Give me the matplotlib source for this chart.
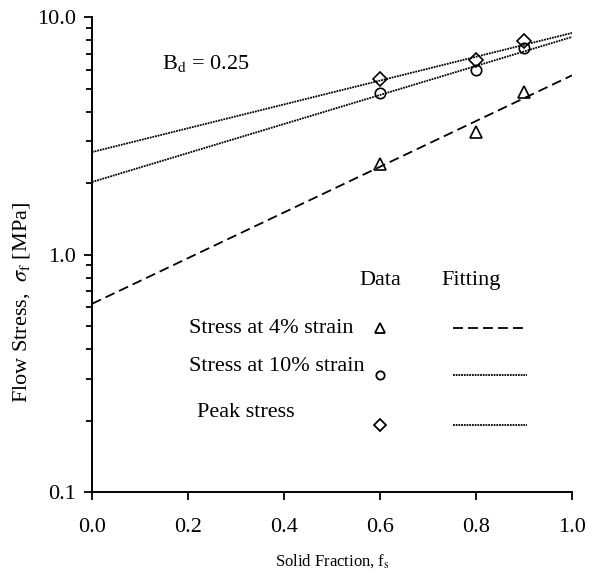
import numpy as np
import matplotlib
matplotlib.use('Agg')
import matplotlib.pyplot as plt
import matplotlib.ticker as tck

plt.rcParams['font.family'] = ['Liberation Serif', 'DejaVu Serif']
plt.rcParams['mathtext.fontset'] = 'stix'

# measured data
fs_data = [0.6, 0.8, 0.9]
stress_4pct = [2.41, 3.27, 4.83]
stress_10pct = [4.79, 6.0, 7.4]
peak_stress = [5.5, 6.6, 7.9]

# exponential fits: sigma = a * exp(b * fs)
fit_a = [0.62, 2.02, 2.70]
fit_b = [2.215, 1.406, 1.155]

legend_names = ['Stress at 4% strain', 'Stress at 10% strain', 'Peak stress']

dashed = (0, (5.5, 2.8))
dotted = (0, (1.0, 0.5))

fig = plt.figure(figsize=(5.95, 5.75), dpi=100)
ax = fig.add_axes([0.1546, 0.1443, 0.8067, 0.8261])

# data points
ax.plot(fs_data, stress_4pct, ls='none', marker='^', ms=8.5, mfc='none', mec='black', mew=1.2)
ax.plot(fs_data, stress_10pct, ls='none', marker='o', ms=7.5, mfc='none', mec='black', mew=1.2)
ax.plot(fs_data, peak_stress, ls='none', marker='D', ms=7, mfc='none', mec='black', mew=1.2)

# fitted lines
xf = np.linspace(0.0, 1.0, 200)
styles = [dashed, dotted, dotted]
for a, b, st in zip(fit_a, fit_b, styles):
    ax.plot(xf, a * np.exp(b * xf), color='black', lw=1.3, ls=st)

# axes setup
ax.set_yscale('log')
ax.set_xlim(0.0, 1.0)
ax.set_ylim(0.1, 10.0)
ax.set_xticks([0.0, 0.2, 0.4, 0.6, 0.8, 1.0])
ax.xaxis.set_major_formatter(tck.FormatStrFormatter('%.1f'))
ax.yaxis.set_major_locator(tck.FixedLocator([0.1, 1.0, 10.0]))
ax.yaxis.set_major_formatter(tck.FixedFormatter(['0.1', '1.0', '10.0']))
ax.yaxis.set_minor_locator(tck.LogLocator(base=10, subs=np.arange(2, 10)))
ax.yaxis.set_minor_formatter(tck.NullFormatter())
ax.xaxis.set_minor_locator(tck.NullLocator())

for s in ['top', 'right']:
    ax.spines[s].set_visible(False)
for s in ['left', 'bottom']:
    ax.spines[s].set_linewidth(1.4)

ax.tick_params(axis='both', which='major', direction='out', length=5.5, width=1.3,
               labelsize=16)
ax.tick_params(axis='x', which='major', pad=13)
ax.tick_params(axis='y', which='major', pad=6)
ax.tick_params(axis='y', which='minor', direction='out', length=4, width=1.3)

ax.set_xlabel('Solid Fraction, f$_\\mathrm{s}$', fontsize=12, labelpad=11)
ax.set_ylabel('Flow Stress,  $\\sigma_\\mathrm{f}$ [MPa]', fontsize=16)
ax.yaxis.set_label_coords(-0.125, 0.40)

# annotations
ax.text(0.145, 6.4, 'B$_\\mathrm{d}$ = 0.25', fontsize=16, va='center', ha='left')

# hand-made legend
ax.text(0.6, 0.78, 'Data', fontsize=16, ha='center', va='center')
ax.text(0.79, 0.78, 'Fitting', fontsize=16, ha='center', va='center')

leg_y = [0.49, 0.31, 0.191]
text_y = [0.49, 0.338, 0.217]
text_x = [0.202, 0.202, 0.219]
leg_markers = ['^', 'o', 'D']
leg_ms = [7, 6, 6]
for i in range(3):
    ax.text(text_x[i], text_y[i], legend_names[i], fontsize=16, ha='left', va='center')
    ax.plot([0.6], [leg_y[i]], ls='none', marker=leg_markers[i], ms=leg_ms[i],
            mfc='none', mec='black', mew=1.3)
    ax.plot([0.752, 0.906], [leg_y[i], leg_y[i]], color='black', lw=1.3, ls=styles[i])

fig.savefig('out.png', dpi=100)
